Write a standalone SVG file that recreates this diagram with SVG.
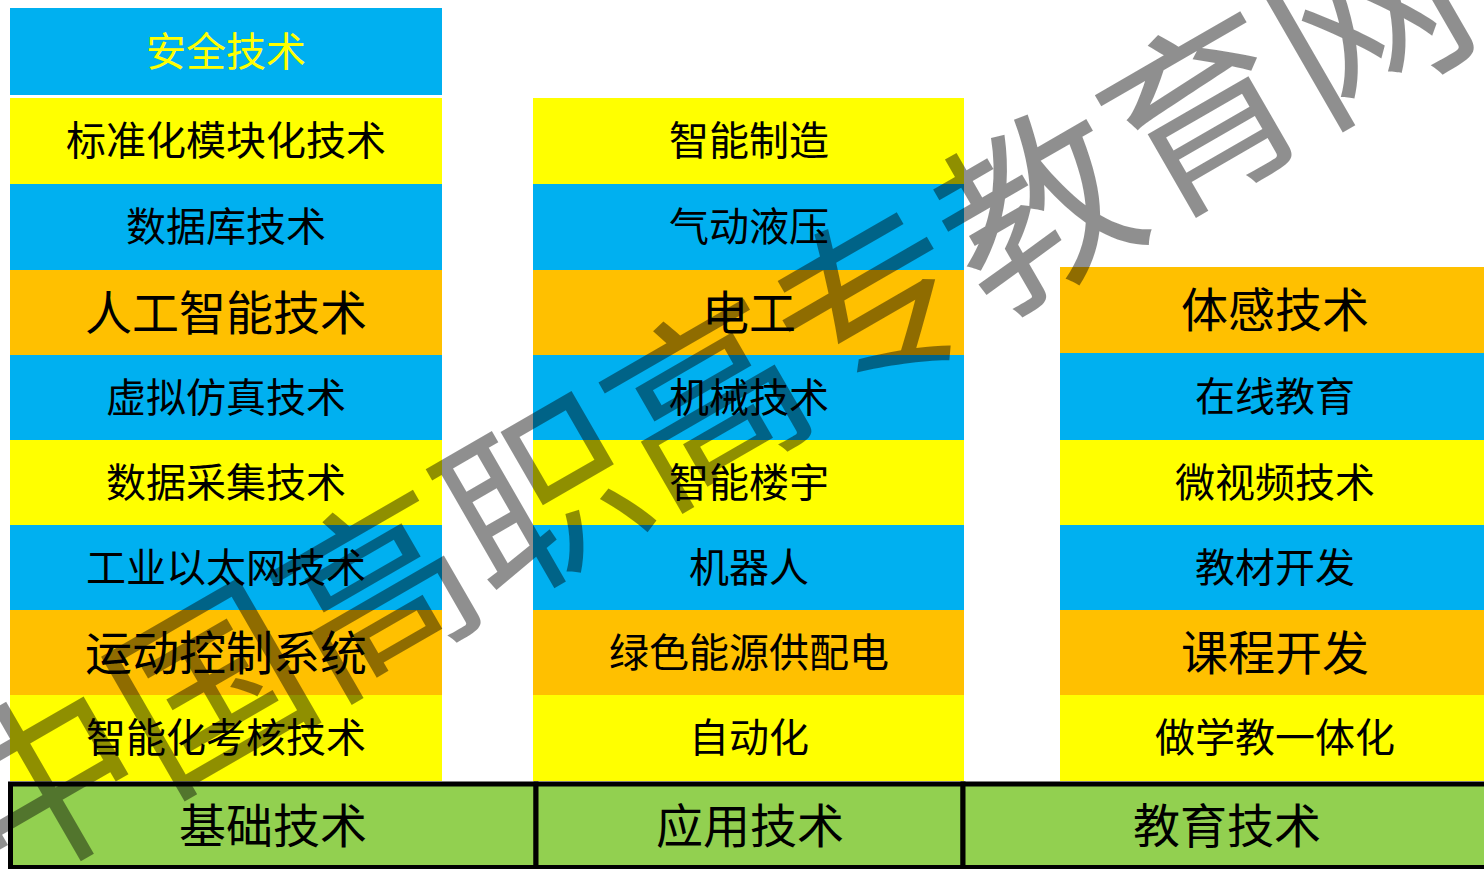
<svg xmlns="http://www.w3.org/2000/svg" width="1484" height="869" viewBox="0 0 1484 869">
<style>
.t{font-family:"Noto Sans CJK SC","Noto Sans CJK JP",sans-serif;text-anchor:middle;fill:#000;}
.n{font-size:40px;}
.l{font-size:47px;}
.blue{fill:#00B0F0;}
.yel{fill:#FFFF00;}
.org{fill:#FFC000;}
.base{fill:#92D050;stroke:#000;stroke-width:5;}
.wm{font-family:"Noto Sans CJK SC",sans-serif;font-size:191px;fill:#000;fill-opacity:0.44;text-anchor:middle;}
</style>
<rect width="1484" height="869" fill="#fff"/>
<g id="col1">
<g id="n-anquan"><rect class="blue" x="10" y="8" width="432" height="87"/><text class="t n" x="226" y="66" style="fill:#FFFF00">安全技术</text></g>
<g id="n-biaozhun"><rect class="yel" x="10" y="98" width="432" height="86"/><text class="t n" x="226" y="155">标准化模块化技术</text></g>
<g id="n-shujuku"><rect class="blue" x="10" y="184" width="432" height="86"/><text class="t n" x="226" y="241">数据库技术</text></g>
<g id="n-rengong"><rect class="org" x="10" y="270" width="432" height="85"/><text class="t l" x="226" y="330">人工智能技术</text></g>
<g id="n-xuni"><rect class="blue" x="10" y="355" width="432" height="85"/><text class="t n" x="226" y="412">虚拟仿真技术</text></g>
<g id="n-caiji"><rect class="yel" x="10" y="440" width="432" height="85"/><text class="t n" x="226" y="497">数据采集技术</text></g>
<g id="n-yitaiwang"><rect class="blue" x="10" y="525" width="432" height="85"/><text class="t n" x="226" y="582">工业以太网技术</text></g>
<g id="n-yundong"><rect class="org" x="10" y="610" width="432" height="85"/><text class="t l" x="226" y="670">运动控制系统</text></g>
<g id="n-kaohe"><rect class="yel" x="10" y="695" width="432" height="86"/><text class="t n" x="226" y="752">智能化考核技术</text></g>
</g>
<g id="col2">
<g id="n-zhizao"><rect class="yel" x="533" y="98" width="431" height="86"/><text class="t n" x="749" y="155">智能制造</text></g>
<g id="n-qidong"><rect class="blue" x="533" y="184" width="431" height="86"/><text class="t n" x="749" y="241">气动液压</text></g>
<g id="n-diangong"><rect class="org" x="533" y="270" width="431" height="85"/><text class="t l" x="749" y="330">电工</text></g>
<g id="n-jixie"><rect class="blue" x="533" y="355" width="431" height="85"/><text class="t n" x="749" y="412">机械技术</text></g>
<g id="n-louyu"><rect class="yel" x="533" y="440" width="431" height="85"/><text class="t n" x="749" y="497">智能楼宇</text></g>
<g id="n-jiqiren"><rect class="blue" x="533" y="525" width="431" height="85"/><text class="t n" x="749" y="582">机器人</text></g>
<g id="n-nengyuan"><rect class="org" x="533" y="610" width="431" height="85"/><text class="t n" x="749" y="667">绿色能源供配电</text></g>
<g id="n-zidonghua"><rect class="yel" x="533" y="695" width="431" height="86"/><text class="t n" x="749" y="752">自动化</text></g>
</g>
<g id="col3">
<g id="n-tigan"><rect class="org" x="1060" y="267" width="430" height="86"/><text class="t l" x="1275" y="327">体感技术</text></g>
<g id="n-zaixian"><rect class="blue" x="1060" y="353" width="430" height="87"/><text class="t n" x="1275" y="411">在线教育</text></g>
<g id="n-weishipin"><rect class="yel" x="1060" y="440" width="430" height="85"/><text class="t n" x="1275" y="497">微视频技术</text></g>
<g id="n-jiaocai"><rect class="blue" x="1060" y="525" width="430" height="85"/><text class="t n" x="1275" y="582">教材开发</text></g>
<g id="n-kecheng"><rect class="org" x="1060" y="610" width="430" height="85"/><text class="t l" x="1275" y="670">课程开发</text></g>
<g id="n-yitihua"><rect class="yel" x="1060" y="695" width="430" height="86"/><text class="t n" x="1275" y="752">做学教一体化</text></g>
</g>
<g id="base">
<g id="n-jichu"><rect class="base" x="10.5" y="784" width="525.5" height="83.5"/><text class="t l" x="273" y="843">基础技术</text></g>
<g id="n-yingyong"><rect class="base" x="536" y="784" width="427" height="83.5"/><text class="t l" x="750" y="843">应用技术</text></g>
<g id="n-jiaoyu"><rect class="base" x="963" y="784" width="530" height="83.5"/><text class="t l" x="1227" y="843">教育技术</text></g>
</g>
<g id="watermark">
<text class="wm" x="700" y="390" dominant-baseline="central" transform="rotate(-30 700 390)">中国高职高专教育网</text>
</g>
</svg>
